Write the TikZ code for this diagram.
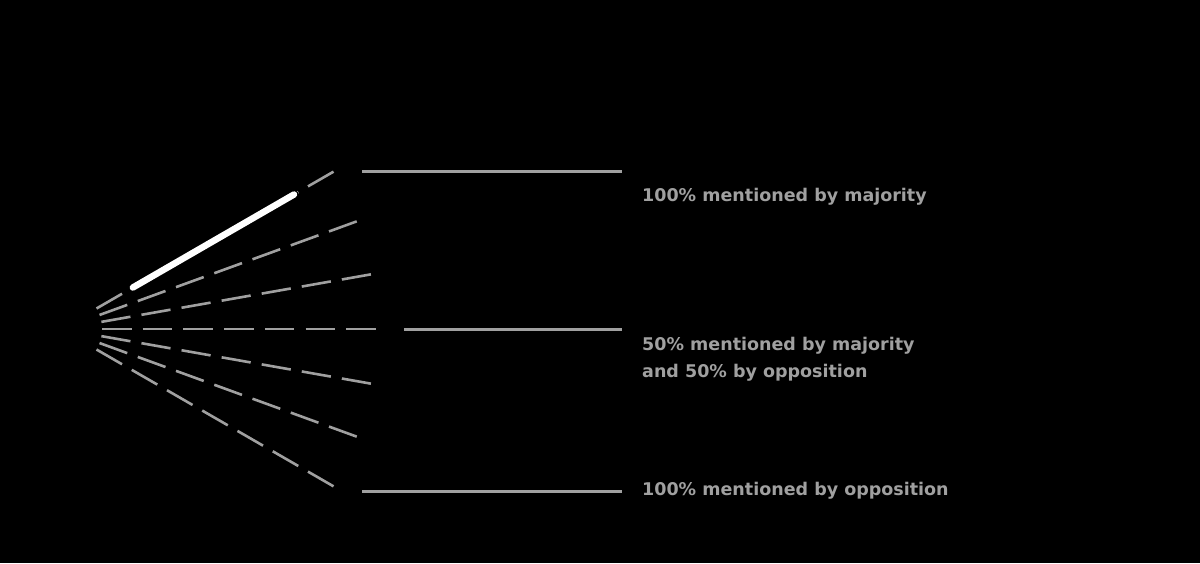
\documentclass[tikz,border=0pt]{standalone}
\usepackage{fontspec}
\setmainfont{DejaVu Sans}
\usetikzlibrary{positioning, calc}
\definecolor{midgray}{RGB}{160,160,160}

\begin{document}
\begin{tikzpicture}[x=1pt, y=-1pt,
      ray/.style={midgray, line width=2.6pt, dash pattern=on 29.5pt off 11.2pt},
      hline/.style={midgray, line width=2.6pt},
      bar/.style={line width=6.5pt, line cap=round, white},
      lab/.style={anchor=base west, inner sep=0pt, align=left, text=midgray, font=\bfseries\fontsize{17.5}{26.5}\selectfont}]
    \fill[black] (0,0) rectangle (1200,563);
    \useasboundingbox (0,0) rectangle (1200,563);
    \coordinate (o) at (61,329);
    \foreach \a/\n in {-30/1,-20/2,-10/3,0/4,10/5,20/6,30/7}
      \draw[ray] ($(o)+(\a:41)$) coordinate (s\n) -- ($(o)+(\a:315)$) coordinate (e\n);
    \draw[bar, black, line width=9pt] ($(o)+(-30:83)$) -- ($(o)+(-30:269)$);
    \draw[bar] ($(o)+(-30:83)$) -- ($(o)+(-30:269)$);
    \coordinate (l1) at (362,171.5); \coordinate (t1) at (622,171.5);
    \coordinate (l2) at (404,329.3); \coordinate (t2) at (622,329.3);
    \coordinate (l3) at (362,491.5); \coordinate (t3) at (622,491.5);
    \draw[hline] (l1)--(t1); \draw[hline] (l2)--(t2); \draw[hline] (l3)--(t3);
    \node[lab] (maj) at (642,201.5) {100\% mentioned by majority};
    \node[lab] (half) at (642,377.2) {50\% mentioned by majority\\and 50\% by opposition};
    \node[lab] (opp) at (642,495.5) {100\% mentioned by opposition};
  \end{tikzpicture}
\end{document}
